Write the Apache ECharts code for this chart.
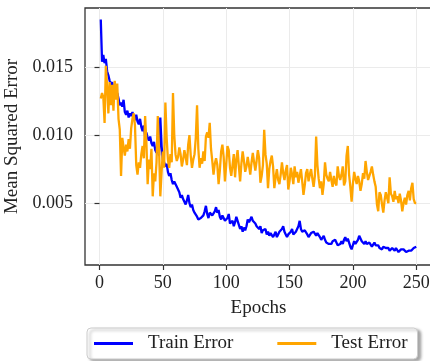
<!DOCTYPE html>
<html>
<head>
<meta charset="utf-8">
<script src="https://cdn.jsdelivr.net/npm/echarts@6/dist/echarts.min.js"></script>
<style>html,body{margin:0;padding:0;background:#fff}#c{width:430px;height:361px}</style>
</head>
<body>
<div id="c"></div>
<script>
const xTicks = [0, 50, 100, 150, 200, 250];
const yTicks = [0.005, 0.010, 0.015];
const trainError = [
0.0185,0.0154,0.0159,0.0153,0.0156,0.0147,0.0144,0.0140,0.0137,0.0139,
0.0133,0.0135,0.0129,0.0131,0.0127,0.0122,0.0124,0.0121,0.0126,0.0117,
0.0115,0.0118,0.0113,0.0116,0.0114,0.0117,0.0113,0.0111,0.0115,0.0110,
0.0108,0.0112,0.0106,0.0103,0.0107,0.0099,0.0102,0.0098,0.0096,0.0099,
0.0094,0.0092,0.0095,0.0089,0.0087,0.0090,0.0085,0.0113,0.0092,0.0082,
0.0080,0.0077,0.0079,0.0073,0.0070,0.0072,0.0067,0.0064,0.0066,0.0065,
0.0062,0.0063,0.0058,0.0054,0.0056,0.0053,0.0051,0.0049,0.0052,0.0056,
0.0050,0.0047,0.0049,0.0045,0.0043,0.0044,0.0040,0.0038,0.0037,0.0039,
0.0038,0.0041,0.0044,0.0048,0.0042,0.0039,0.0043,0.0044,0.0041,0.0040,
0.0044,0.0047,0.0043,0.0045,0.0040,0.0038,0.0041,0.0039,0.0037,0.0036,
0.0039,0.0042,0.0035,0.0034,0.0037,0.0033,0.0036,0.0040,0.0037,0.0034,
0.0031,0.0033,0.0029,0.0032,0.0030,0.0033,0.0038,0.0036,0.0038,0.0040,
0.0037,0.0038,0.0035,0.0033,0.0034,0.0031,0.0033,0.0028,0.0030,0.0029,
0.0031,0.0027,0.0029,0.0026,0.0028,0.0029,0.0025,0.0027,0.0029,0.0025,
0.0027,0.0029,0.0028,0.0031,0.0033,0.0029,0.0027,0.0025,0.0027,0.0028,
0.0029,0.0031,0.0027,0.0026,0.0029,0.0030,0.0033,0.0037,0.0031,0.0029,
0.0028,0.0030,0.0029,0.0027,0.0025,0.0026,0.0028,0.0027,0.0029,0.0028,
0.0026,0.0028,0.0027,0.0025,0.0023,0.0024,0.0026,0.0023,0.0021,0.0022,
0.0020,0.0021,0.0020,0.0022,0.0021,0.0023,0.0021,0.0019,0.0020,0.0020,
0.0022,0.0020,0.0023,0.0025,0.0022,0.0024,0.0021,0.0018,0.0016,0.0019,
0.0022,0.0020,0.0021,0.0023,0.0026,0.0027,0.0022,0.0021,0.0020,0.0022,
0.0020,0.0019,0.0021,0.0020,0.0018,0.0019,0.0021,0.0019,0.0018,0.0019,
0.0017,0.0018,0.0016,0.0018,0.0019,0.0017,0.0016,0.0017,0.0015,0.0016,
0.0017,0.0016,0.0015,0.0017,0.0016,0.0014,0.0015,0.0016,0.0017,0.0016,
0.0015,0.0014,0.0013,0.0015,0.0014,0.0015,0.0016,0.0017,0.0017,0.0018
];
const testError = [
0.0127,0.0131,0.0128,0.0109,0.0151,0.0136,0.0116,0.0139,0.0122,0.0137,
0.0118,0.0140,0.0126,0.0138,0.0112,0.0104,0.0070,0.0098,0.0091,0.0085,
0.0093,0.0088,0.0097,0.0090,0.0105,0.0112,0.0116,0.0107,0.0078,0.0071,
0.0080,0.0076,0.0086,0.0092,0.0083,0.0114,0.0095,0.0064,0.0082,0.0075,
0.0090,0.0055,0.0072,0.0066,0.0080,0.0114,0.0090,0.0055,0.0073,0.0088,
0.0076,0.0124,0.0098,0.0082,0.0076,0.0086,0.0080,0.0131,0.0100,0.0086,
0.0081,0.0084,0.0091,0.0086,0.0077,0.0082,0.0089,0.0084,0.0078,0.0093,
0.0100,0.0085,0.0076,0.0082,0.0086,0.0098,0.0122,0.0090,0.0076,0.0083,
0.0079,0.0088,0.0081,0.0099,0.0102,0.0098,0.0109,0.0090,0.0081,0.0071,
0.0079,0.0083,0.0078,0.0064,0.0074,0.0088,0.0093,0.0084,0.0066,0.0078,
0.0092,0.0089,0.0076,0.0070,0.0078,0.0086,0.0069,0.0082,0.0089,0.0077,
0.0066,0.0079,0.0088,0.0081,0.0073,0.0077,0.0084,0.0078,0.0071,0.0080,
0.0087,0.0080,0.0074,0.0081,0.0089,0.0083,0.0065,0.0070,0.0078,0.0104,
0.0086,0.0079,0.0061,0.0075,0.0081,0.0085,0.0077,0.0061,0.0069,0.0075,
0.0067,0.0064,0.0071,0.0080,0.0072,0.0067,0.0074,0.0078,0.0060,0.0066,
0.0076,0.0071,0.0064,0.0077,0.0069,0.0073,0.0065,0.0070,0.0075,0.0066,
0.0056,0.0063,0.0072,0.0075,0.0066,0.0071,0.0075,0.0068,0.0062,0.0070,
0.0099,0.0078,0.0068,0.0061,0.0066,0.0056,0.0064,0.0080,0.0071,0.0068,
0.0066,0.0073,0.0067,0.0062,0.0070,0.0065,0.0063,0.0077,0.0070,0.0067,
0.0071,0.0077,0.0063,0.0066,0.0085,0.0092,0.0071,0.0062,0.0051,0.0064,
0.0073,0.0068,0.0064,0.0070,0.0066,0.0059,0.0064,0.0072,0.0068,0.0081,
0.0073,0.0067,0.0070,0.0073,0.0077,0.0071,0.0066,0.0062,0.0049,0.0044,
0.0058,0.0056,0.0049,0.0043,0.0052,0.0058,0.0054,0.0050,0.0069,0.0057,
0.0055,0.0051,0.0059,0.0053,0.0055,0.0050,0.0057,0.0052,0.0044,0.0050,
0.0054,0.0049,0.0056,0.0059,0.0052,0.0061,0.0065,0.0053,0.0050,0.0050
];
const epochs = trainError.map((_, i) => i + 1);

const FONT = 'Liberation Serif';
const chart = echarts.init(document.getElementById('c'), null, {renderer: 'canvas'});
chart.setOption({
  animation: false,
  backgroundColor: '#ffffff',
  grid: {left: 85, top: 8, right: -2, bottom: 96, show: true, borderColor: '#333333', borderWidth: 1.3,
    backgroundColor: 'transparent', containLabel: false, outerBoundsMode: 'none'},
  xAxis: {
    type: 'value', min: -11.45, max: 262.45,
    name: 'Epochs', nameLocation: 'middle', nameGap: 34,
    nameTextStyle: {fontFamily: FONT, fontSize: 19, color: '#222'},
    axisLine: {show: false},
    axisTick: {show: true, length: 5, lineStyle: {color: '#333', width: 1.2}, customValues: xTicks},
    axisLabel: {fontFamily: FONT, fontSize: 18, color: '#222', margin: 9, customValues: xTicks},
    splitLine: {show: true, lineStyle: {color: '#ebebeb', width: 1}, customValues: xTicks}
  },
  yAxis: {
    type: 'value', min: 0.00045, max: 0.01935,
    name: 'Mean Squared Error', nameLocation: 'middle', nameGap: 57,
    nameTextStyle: {fontFamily: FONT, fontSize: 19, color: '#222'},
    axisLine: {show: false},
    axisTick: {show: true, length: 5, lineStyle: {color: '#333', width: 1.2}, customValues: yTicks},
    axisLabel: {fontFamily: FONT, fontSize: 18, color: '#222', margin: 12, customValues: yTicks,
      formatter: v => v.toFixed(3)},
    splitLine: {show: true, lineStyle: {color: '#ebebeb', width: 1}, customValues: yTicks}
  },
  legend: {
    left: 87, top: 328,
    data: ['Train Error', 'Test Error'],
    icon: 'rect', itemWidth: 39, itemHeight: 3, itemGap: 44,
    padding: [6, 10, 6, 7],
    borderColor: '#cccccc', borderWidth: 1, borderRadius: 4,
    backgroundColor: '#ffffff',
    shadowColor: 'rgba(0,0,0,0.35)', shadowBlur: 3, shadowOffsetX: 3, shadowOffsetY: 2,
    textStyle: {fontFamily: FONT, fontSize: 19, color: '#222', padding: [0, 0, 0, 10]}
  },
  series: [
    {name: 'Train Error', type: 'line', data: epochs.map((e, i) => [e, trainError[i]]),
     showSymbol: false, lineStyle: {color: '#0000ff', width: 2.3}, itemStyle: {color: '#0000ff'}, z: 2},
    {name: 'Test Error', type: 'line', data: epochs.map((e, i) => [e, testError[i]]),
     showSymbol: false, lineStyle: {color: '#ffa500', width: 2.3}, itemStyle: {color: '#ffa500'}, z: 3}
  ]
});
</script>
</body>
</html>
